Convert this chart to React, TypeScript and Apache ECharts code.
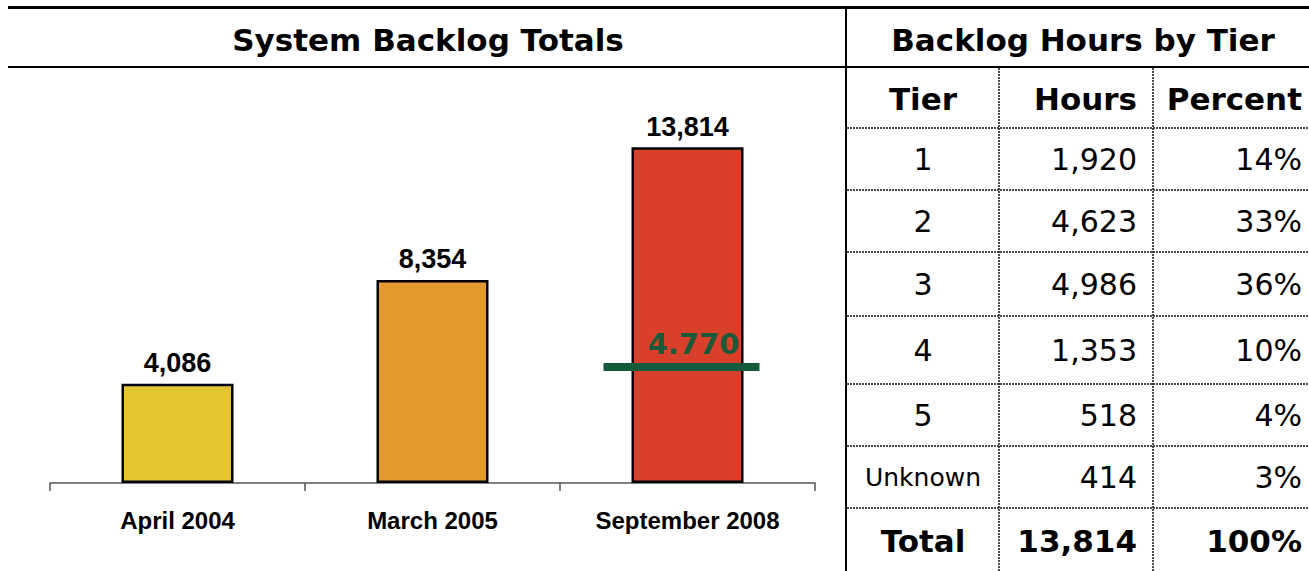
import React, { useEffect, useRef } from "react";
import * as echarts from "echarts";

const categories = ["April 2004", "March 2005", "September 2008"];
const totals = [4086, 8354, 13814];
const barColors = ["#e4c430", "#e39a2e", "#d8402c"];
const targetValue = 4770;
const targetLabel = "4.770";

const tiers = ["1", "2", "3", "4", "5", "Unknown"];
const tierHours = [1920, 4623, 4986, 1353, 518, 414];
const tierPercents = ["14%", "33%", "36%", "10%", "4%", "3%"];
const totalLabel = "Total";
const totalHours = 13814;
const totalPercent = "100%";

const tableHeaders = ["Tier", "Hours", "Percent"];
const chartTitle = "System Backlog Totals";
const tableTitle = "Backlog Hours by Tier";

const fmt = (v: number) => v.toLocaleString("en-US");

export default function App() {
  const ref = useRef<HTMLDivElement>(null);
  useEffect(() => {
    if (!ref.current) return;
    const chart = echarts.init(ref.current, null, { renderer: "svg" });
    const F = "DejaVu Sans";
    const A = "Liberation Sans";
    const rowLines = [128, 190, 252, 316, 384, 446, 508];
    const rowCenters = [159, 221, 284, 350, 415, 477];
    const colTier = 923;
    const colHours = 1137;
    const colPct = 1302;
    const graphics: any[] = [];
    graphics.push({ type: "rect", shape: { x: 8, y: 6, width: 1301, height: 3 }, style: { fill: "#000" } });
    graphics.push({ type: "rect", shape: { x: 8, y: 66, width: 1301, height: 2 }, style: { fill: "#000" } });
    graphics.push({ type: "rect", shape: { x: 845, y: 6, width: 2, height: 565 }, style: { fill: "#000" } });
    rowLines.forEach((y) => {
      graphics.push({ type: "line", shape: { x1: 847, y1: y, x2: 1309, y2: y }, style: { stroke: "#111", lineWidth: 1.5, lineDash: [2, 1] } });
    });
    [999, 1153].forEach((x) => {
      graphics.push({ type: "line", shape: { x1: x, y1: 68, x2: x, y2: 571 }, style: { stroke: "#111", lineWidth: 1.5, lineDash: [2, 1] } });
    });
    graphics.push({ type: "text", x: 428, y: 40, style: { text: chartTitle, font: `bold 31px "${F}"`, fill: "#000", textAlign: "center", textVerticalAlign: "middle" } });
    graphics.push({ type: "text", x: 1083, y: 40, style: { text: tableTitle, font: `bold 31px "${F}"`, fill: "#000", textAlign: "center", textVerticalAlign: "middle" } });
    const hx = [colTier, colHours, colPct];
    const ha = ["center", "right", "right"];
    tableHeaders.forEach((h, i) => {
      graphics.push({ type: "text", x: hx[i], y: 99, style: { text: h, font: `bold 31px "${F}"`, fill: "#000", textAlign: ha[i], textVerticalAlign: "middle" } });
    });
    tiers.forEach((t, i) => {
      const y = rowCenters[i];
      const small = t.length > 2;
      graphics.push({ type: "text", x: colTier, y, style: { text: t, font: `${small ? 25 : 30}px "${F}"`, fill: "#000", textAlign: "center", textVerticalAlign: "middle" } });
      graphics.push({ type: "text", x: colHours, y, style: { text: fmt(tierHours[i]), font: `30px "${F}"`, fill: "#000", textAlign: "right", textVerticalAlign: "middle" } });
      graphics.push({ type: "text", x: colPct, y, style: { text: tierPercents[i], font: `30px "${F}"`, fill: "#000", textAlign: "right", textVerticalAlign: "middle" } });
    });
    const ty = 541;
    graphics.push({ type: "text", x: colTier, y: ty, style: { text: totalLabel, font: `bold 31px "${F}"`, fill: "#000", textAlign: "center", textVerticalAlign: "middle" } });
    graphics.push({ type: "text", x: colHours, y: ty, style: { text: fmt(totalHours), font: `bold 31px "${F}"`, fill: "#000", textAlign: "right", textVerticalAlign: "middle" } });
    graphics.push({ type: "text", x: colPct, y: ty, style: { text: totalPercent, font: `bold 31px "${F}"`, fill: "#000", textAlign: "right", textVerticalAlign: "middle" } });

    chart.setOption({
      animation: false,
      backgroundColor: "#fff",
      grid: { left: 50, right: 494, top: 94, bottom: 88, containLabel: false },
      xAxis: {
        type: "category",
        data: categories,
        boundaryGap: true,
        axisLine: { show: true, lineStyle: { color: "#555", width: 1.5 } },
        axisTick: { show: true, length: 8, lineStyle: { color: "#555", width: 1.5 } },
        axisLabel: { color: "#000", fontFamily: A, fontWeight: "bold", fontSize: 24, margin: 25 },
      },
      yAxis: { type: "value", min: 0, max: 16000, show: false, splitLine: { show: false } },
      series: [
        {
          type: "bar",
          barWidth: 112,
          data: totals.map((v, i) => ({ value: v, itemStyle: { color: barColors[i] } })),
          itemStyle: { borderColor: "#000", borderWidth: 2.5 },
          label: {
            show: true,
            position: "top",
            distance: 7,
            color: "#000",
            fontFamily: A,
            fontWeight: "bold",
            fontSize: 27,
            formatter: (p: any) => fmt(p.value),
          },
        },
        {
          type: "custom",
          data: [[2, targetValue]],
          renderItem: (params: any, api: any) => {
            const p = api.coord([api.value(0), api.value(1)]);
            return {
              type: "group",
              children: [
                { type: "rect", shape: { x: p[0] - 84, y: p[1] - 4, width: 156, height: 8 }, style: { fill: "#135b3c" } },
                { type: "text", x: p[0] + 6, y: p[1] - 9, style: { text: targetLabel, font: `bold 29px "${F}"`, fill: "#1b5a38", textAlign: "center", textVerticalAlign: "bottom" } },
              ],
            };
          },
          z: 5,
        },
      ],
      graphic: graphics,
    });
    return () => chart.dispose();
  }, []);
  return <div ref={ref} style={{ position: "fixed", left: 0, top: 0, width: 1309, height: 571 }} />;
}
